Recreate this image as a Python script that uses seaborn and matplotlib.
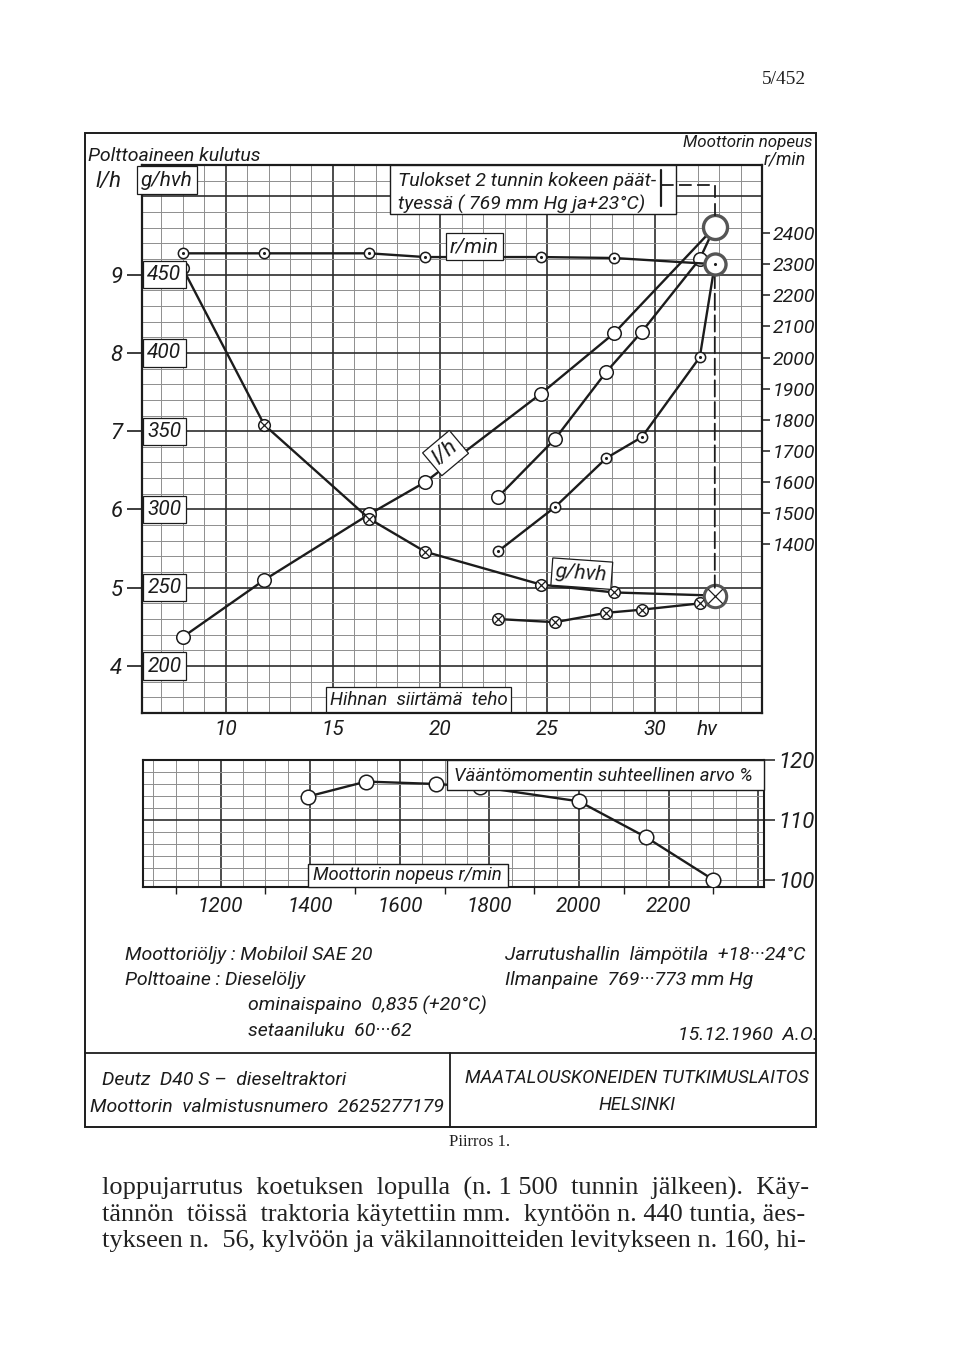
import numpy as np
import pandas as pd
import matplotlib
matplotlib.use("Agg")
import matplotlib.pyplot as plt
import matplotlib.transforms as mtransforms
from matplotlib.patches import Rectangle, ConnectionPatch
from matplotlib.lines import Line2D
import seaborn as sns

# ---------------- data ----------------
# governor range (speed ~ constant)
hp_gov = [8.0, 11.8, 16.7, 19.3, 24.7, 28.1, 32.8]
rpm_gov = [2335, 2335, 2335, 2323, 2323, 2320, 2300]
lh_gov = [4.37, 5.10, 5.94, 6.35, 7.48, 8.25, 9.61]
g_gov = [454, 354, 294, 273, 252, 247, 245]

# full load, falling speed
hp_full = [22.7, 25.35, 27.75, 29.4, 32.1, 32.8]
rpm_full = [1377, 1519, 1677, 1744, 2001, 2300]
lh_full = [6.16, 6.90, 7.76, 8.27, 9.20, 9.61]
g_full = [230, 228, 234, 236, 240, 245]

# relative torque
torque_rpm = [1395, 1525, 1680, 1780, 2000, 2150, 2300]
torque_pct = [113.9, 116.4, 116.0, 115.5, 113.1, 107.1, 100.0]

hp_ticks = [10, 15, 20, 25, 30]
lh_ticks = [4, 5, 6, 7, 8, 9]
g_ticks = [200, 250, 300, 350, 400, 450]
rpm_ticks = [1400, 1500, 1600, 1700, 1800, 1900, 2000, 2100, 2200, 2300, 2400]
torque_rpm_ticks = [1200, 1400, 1600, 1800, 2000, 2200]
torque_pct_ticks = [100, 110, 120]

# ---------------- style ----------------
sns.set_theme(style="white")
LETTER = ['Roboto', 'DejaVu Sans']
SERIF = ['Liberation Serif', 'DejaVu Serif']
plt.rcParams['font.family'] = LETTER
plt.rcParams['font.style'] = 'italic'
INK = '#1c1c1c'
MINOR = '#8e8e8e'
MAJOR = '#2e2e2e'

W, H = 960, 1371
fig = plt.figure(figsize=(W / 100, H / 100), dpi=100)
fig.patch.set_facecolor('white')


def rect(x0, y0, x1, y1):
    return [x0 / W, 1 - y1 / H, (x1 - x0) / W, (y1 - y0) / H]


def fxy(x, y):
    return x / W, 1 - y / H


TXT = dict(family=LETTER, style='italic', color=INK)
BOX = dict(boxstyle='square,pad=0.2', fc='white', ec=INK, lw=0.9)
FS = 14

# ---------------- main chart ----------------
ax = fig.add_axes(rect(142, 165, 762, 713))
ax_g = ax.twinx()
ax_r = ax.twinx()

df_gov = pd.DataFrame(dict(hp=hp_gov, rpm=rpm_gov, lh=lh_gov, g=g_gov))
df_full = pd.DataFrame(dict(hp=hp_full, rpm=rpm_full, lh=lh_full, g=g_full))

# grid
for v in range(7, 35):
    mj = v % 5 == 0
    ax.axvline(v, color=MAJOR if mj else MINOR, lw=1.2 if mj else 0.7, zorder=0.5)
for k in range(1, 35):
    h = round(3.4 + 0.2 * k, 1)
    mj = abs(h - round(h)) < 1e-6
    ax.axhline(h, color=MAJOR if mj else MINOR, lw=1.2 if mj else 0.7, zorder=0.5)

line_kw = dict(color=INK, lw=1.7, sort=False, estimator=None, legend=False, zorder=3)
sns.lineplot(data=df_gov, x='hp', y='lh', ax=ax, **line_kw)
sns.lineplot(data=df_full, x='hp', y='lh', ax=ax, **line_kw)
sns.lineplot(data=df_gov, x='hp', y='g', ax=ax_g, **line_kw)
sns.lineplot(data=df_full, x='hp', y='g', ax=ax_g, **line_kw)
sns.lineplot(data=df_gov, x='hp', y='rpm', ax=ax_r, **line_kw)
sns.lineplot(data=df_full, x='hp', y='rpm', ax=ax_r, **line_kw)


def ring(a, x, y, s, lw=1.1, ec=INK, z=5):
    sns.scatterplot(x=x, y=y, ax=a, marker='o', s=s, facecolor='white',
                    edgecolor=ec, linewidth=lw, zorder=z, legend=False)


def dot_ring(a, x, y, s, lw=1.1, ec=INK):
    ring(a, x, y, s, lw, ec)
    sns.scatterplot(x=x, y=y, ax=a, marker='o', s=5, color=INK, linewidth=0,
                    zorder=6, legend=False)


def cross_ring(a, x, y, s, lw=1.1, ec=INK):
    ring(a, x, y, s, lw, ec)
    sns.scatterplot(x=x, y=y, ax=a, marker='x', s=s * 0.42, color=INK,
                    linewidth=0.9, zorder=6, legend=False)


# l/h: open circles
ring(ax, hp_gov[:-1], lh_gov[:-1], 95)
ring(ax, hp_full[:-1], lh_full[:-1], 95)
ring(ax, [hp_gov[-1]], [lh_gov[-1]], 300, lw=2.4, ec='#555555')
# g/hvh: crossed circles
cross_ring(ax_g, hp_gov[:-1], g_gov[:-1], 70)
cross_ring(ax_g, hp_full[:-1], g_full[:-1], 70)
cross_ring(ax_g, [hp_full[-1]], [g_full[-1]], 260, lw=2.2, ec='#555555')
# r/min: dotted circles
dot_ring(ax_r, hp_gov[:-1], rpm_gov[:-1], 55)
dot_ring(ax_r, hp_full[:-1], rpm_full[:-1], 55)
dot_ring(ax_r, [hp_full[-1]], [rpm_full[-1]], 230, lw=2.4, ec='#555555')

for a in (ax, ax_g, ax_r):
    a.set_xlabel('')
    a.set_ylabel('')
ax.set_xlim(6.1, 35)
ax.set_ylim(3.4, 10.4)
ax_g.set_ylim(170, 520)
ax_r.set_ylim(857, 2619)

for s in ax.spines.values():
    s.set_color(INK)
    s.set_linewidth(1.6)
for a in (ax_g, ax_r):
    for s in a.spines.values():
        s.set_visible(False)

ax.set_xticks(hp_ticks + [32.45])
ax.set_xticklabels([str(t) for t in hp_ticks] + ['hv'], **TXT)
ax.tick_params(axis='x', bottom=True, length=0, pad=5, labelsize=15)
ax.set_yticks(lh_ticks)
ax.set_yticklabels([str(t) for t in lh_ticks], **TXT)
ax.tick_params(axis='y', left=True, length=11, width=1.2, color=INK, pad=3, labelsize=16)
ax_g.set_yticks([])
ax_r.set_yticks(rpm_ticks)
ax_r.set_yticklabels([str(t) for t in rpm_ticks], **TXT)
ax_r.tick_params(axis='y', right=True, left=False, length=6, width=1.1,
                 color=INK, pad=2, labelsize=14)

# g/hvh value boxes at left edge
gtrans = mtransforms.blended_transform_factory(ax.transAxes, ax_g.transData)
for g in g_ticks:
    ax_r.text(0.036, g, str(g), transform=gtrans, ha='center', va='center',
              fontsize=15, bbox=BOX, zorder=10, **TXT)

# inline labels
ax_r.text(21.6, 2356, 'r/min', transform=ax_r.transData, ha='center', va='center',
          fontsize=15, bbox=BOX, zorder=10, **TXT)
ax_r.text(20.25, 6.72, 'l/h', transform=ax.transData, ha='center', va='center',
          rotation=40, rotation_mode='anchor', fontsize=16, bbox=BOX, zorder=10, **TXT)
ax_r.text(26.6, 259, 'g/hvh', transform=ax_g.transData, ha='center', va='center',
          rotation=-4, fontsize=15, bbox=BOX, zorder=10, **TXT)
ax_r.text(19.0, 3.57, 'Hihnan  siirtämä  teho', transform=ax.transData, ha='center',
          va='center', fontsize=13.5, bbox=BOX, zorder=10, **TXT)

# result box with bracket
ax_r.add_patch(Rectangle((17.67, 9.77), 30.98 - 17.67, 10.4 - 9.77, transform=ax.transData,
                         fc='white', ec=INK, lw=1.0, zorder=9, clip_on=False))
ax_r.text(18.05, 10.2, 'Tulokset 2 tunnin kokeen päät-', transform=ax.transData,
          ha='left', va='center', fontsize=FS, zorder=10, **TXT)
ax_r.text(18.05, 9.9, 'tyessä ( 769 mm Hg ja+23°C)', transform=ax.transData,
          ha='left', va='center', fontsize=FS, zorder=10, **TXT)
ax_r.add_line(Line2D([30.3, 30.3], [10.33, 9.88], transform=ax.transData, color=INK,
                     lw=1.6, zorder=11))
ax_r.add_line(Line2D([30.3, hp_gov[-1], hp_gov[-1]], [10.15, 10.15, lh_gov[-1] + 0.14],
                     transform=ax.transData, color=INK, lw=1.3, ls=(0, (7, 3)), zorder=11))
con = ConnectionPatch(xyA=(hp_full[-1], rpm_full[-1] - 25), coordsA=ax_r.transData,
                      xyB=(hp_full[-1], g_full[-1] + 5), coordsB=ax_g.transData,
                      color=INK, lw=1.3, ls=(0, (9, 3)), zorder=2)
ax_r.add_artist(con)

# headers
fig.text(*fxy(88, 156), 'Polttoaineen kulutus', ha='left', va='center', fontsize=FS, **TXT)
fig.text(*fxy(108, 181), 'l/h', ha='center', va='center', fontsize=16, **TXT)
fig.text(*fxy(167, 180), 'g/hvh', ha='center', va='center', fontsize=15, bbox=BOX, **TXT)
fig.text(*fxy(748, 143), 'Moottorin nopeus', ha='center', va='center', fontsize=12.2, **TXT)
fig.text(*fxy(785, 160), 'r/min', ha='center', va='center', fontsize=13, **TXT)

# ---------------- torque chart ----------------
axt = fig.add_axes(rect(143, 760, 764, 887))
for v in range(1050, 2401, 50):
    mj = v % 200 == 0
    axt.axvline(v, color=MAJOR if mj else MINOR, lw=1.2 if mj else 0.7, zorder=0.5)
for h in range(100, 119, 2):
    mj = h == 110
    axt.axhline(h, color=MAJOR if mj else MINOR, lw=1.2 if mj else 0.7, zorder=0.5)

df_t = pd.DataFrame(dict(rpm=torque_rpm, pct=torque_pct))
sns.lineplot(data=df_t, x='rpm', y='pct', ax=axt, **line_kw)
ring(axt, torque_rpm, torque_pct, 110)
axt.set_xlabel('')
axt.set_ylabel('')
axt.set_xlim(1027, 2413)
axt.set_ylim(98.8, 120)
for s in axt.spines.values():
    s.set_color(INK)
    s.set_linewidth(1.5)
axt.set_xticks(torque_rpm_ticks)
axt.set_xticklabels([str(t) for t in torque_rpm_ticks], **TXT)
axt.set_xticks(list(range(1100, 2400, 200)), minor=True)
axt.tick_params(axis='x', which='major', bottom=True, length=0, pad=7, labelsize=15)
axt.tick_params(axis='x', which='minor', bottom=True, length=5, width=1, color=INK)
axt.yaxis.tick_right()
axt.set_yticks(torque_pct_ticks)
axt.set_yticklabels([str(t) for t in torque_pct_ticks], **TXT)
axt.tick_params(axis='y', right=True, left=False, length=8, width=1.1, color=INK,
                pad=2, labelsize=16)

axt.add_patch(Rectangle((1706, 115.0), 2413 - 1706, 5.0, fc='white', ec=INK, lw=1.0,
                        zorder=8, clip_on=False))
axt.text(1722, 117.4, 'Vääntömomentin suhteellinen arvo %', ha='left', va='center',
         fontsize=13.4, zorder=9, **TXT)
axt.add_patch(Rectangle((1395, 98.8), 1842 - 1395, 102.6 - 98.8, fc='white', ec=INK,
                        lw=1.0, zorder=8, clip_on=False))
axt.text(1618, 100.75, 'Moottorin nopeus r/min', ha='center', va='center',
         fontsize=13.2, zorder=9, **TXT)

# ---------------- frame and text block ----------------
fig.add_artist(Rectangle(fxy(85, 1127), (816 - 85) / W, (1127 - 133) / H,
                         transform=fig.transFigure, fill=False, ec=INK, lw=1.4))
fig.add_artist(Line2D([85 / W, 816 / W], [1 - 1053 / H] * 2, transform=fig.transFigure,
                      color=INK, lw=1.3))
fig.add_artist(Line2D([450 / W] * 2, [1 - 1053 / H, 1 - 1127 / H],
                      transform=fig.transFigure, color=INK, lw=1.3))

fs = 14
fig.text(*fxy(125, 955), 'Moottoriöljy : Mobiloil SAE 20', ha='left', va='center', fontsize=fs, **TXT)
fig.text(*fxy(125, 980), 'Polttoaine : Dieselöljy', ha='left', va='center', fontsize=fs, **TXT)
fig.text(*fxy(248, 1005), 'ominaispaino  0,835 (+20°C)', ha='left', va='center', fontsize=fs, **TXT)
fig.text(*fxy(248, 1031), 'setaaniluku  60···62', ha='left', va='center', fontsize=fs, **TXT)
fig.text(*fxy(505, 955), 'Jarrutushallin  lämpötila  +18···24°C', ha='left', va='center', fontsize=fs, **TXT)
fig.text(*fxy(505, 980), 'Ilmanpaine  769···773 mm Hg', ha='left', va='center', fontsize=fs, **TXT)
fig.text(*fxy(818, 1035), '15.12.1960  A.O.', ha='right', va='center', fontsize=fs, **TXT)
fig.text(*fxy(102, 1080), 'Deutz  D40 S –  dieseltraktori', ha='left', va='center', fontsize=fs, **TXT)
fig.text(*fxy(90, 1107), 'Moottorin  valmistusnumero  2625277179', ha='left', va='center', fontsize=fs, **TXT)
fig.text(*fxy(637, 1078), 'MAATALOUSKONEIDEN TUTKIMUSLAITOS', ha='center', va='center', fontsize=13.3, **TXT)
fig.text(*fxy(637, 1105), 'HELSINKI', ha='center', va='center', fontsize=13.3, **TXT)

SER = dict(family=SERIF, style='normal', color='#222222')
fig.text(*fxy(806, 80), '5/452', ha='right', va='center', fontsize=14, **SER)
fig.text(*fxy(480, 1142), 'Piirros 1.', ha='center', va='center', fontsize=12, **SER)
para = ['loppujarrutus  koetuksen  lopulla  (n. 1 500  tunnin  jälkeen).  Käy-',
        'tännön  töissä  traktoria käytettiin mm.  kyntöön n. 440 tuntia, äes-',
        'tykseen n.  56, kylvöön ja väkilannoitteiden levitykseen n. 160, hi-']
for i, line in enumerate(para):
    fig.text(*fxy(102, 1188 + 26.5 * i), line, ha='left', va='center', fontsize=19, **SER)

fig.savefig('out.png', dpi=100, facecolor='white')
